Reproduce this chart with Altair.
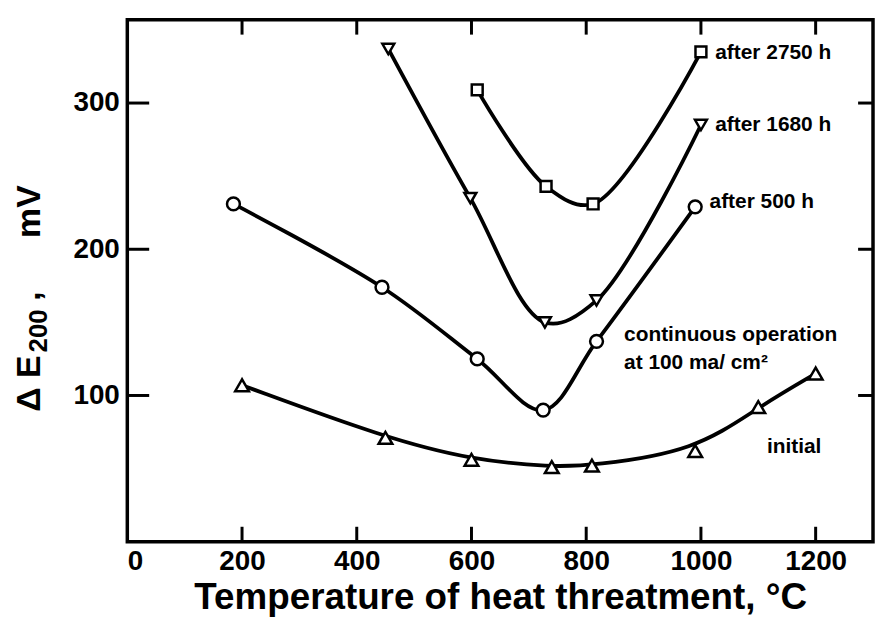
import altair as alt
import pandas as pd

# ---- data ----
initial_x = [200, 450, 600, 740, 810, 990, 1100, 1200]
initial_y = [107, 71, 56, 51, 52, 62, 92, 115]
h500_x = [185, 444, 610, 725, 818, 990]
h500_y = [231, 174, 125, 90, 137, 229]
h1680_x = [455, 598, 728, 818, 1000]
h1680_y = [337, 235, 150, 165, 285]
h2750_x = [610, 730, 812, 1000]
h2750_y = [309, 243, 231, 335]

series_names = ["initial", "after 500 h", "after 1680 h", "after 2750 h"]
series_shapes = ["triangle-up", "circle", "triangle-down", "square"]
series_sizes = [190, 120, 190, 160]

label_text = ["after 2750 h", "after 1680 h", "after 500 h",
              "continuous operation", "at 100 ma/ cm²", "initial"]
label_x = [1025, 1025, 1015, 866, 866, 1115]
label_y = [334, 285, 232, 141, 122, 65]

x_label_values = [0, 200, 400, 600, 800, 1000, 1200]
x_tick_values = [200, 400, 600, 800, 1000, 1200]
y_tick_values = [100, 200, 300]

FONT = "Liberation Sans"
W, H = 750, 525

rows = []
for name, xs, ys in zip(series_names,
                        [initial_x, h500_x, h1680_x, h2750_x],
                        [initial_y, h500_y, h1680_y, h2750_y]):
    for xv, yv in zip(xs, ys):
        rows.append({"series": name, "x": xv, "y": yv})
df = pd.DataFrame(rows)
labels_df = pd.DataFrame({"text": label_text, "x": label_x, "y": label_y})
xt_df = pd.DataFrame({"x": x_tick_values})
yt_df = pd.DataFrame({"y": y_tick_values})

x_scale = alt.Scale(domain=[0, 1300], nice=False, zero=False)
y_scale = alt.Scale(domain=[0, 357], nice=False, zero=False)

x_axis = alt.Axis(values=x_label_values, format="d", ticks=False, domain=False, grid=False,
                  labelFont=FONT, labelFontSize=28, labelFontWeight="bold",
                  labelColor="black", labelPadding=6,
                  title="Temperature of heat threatment, °C",
                  titleFont=FONT, titleFontSize=37, titleFontWeight="bold",
                  titleColor="black", titlePadding=4)
y_axis = alt.Axis(values=y_tick_values, format="d", ticks=False, domain=False, grid=False,
                  labelFont=FONT, labelFontSize=28, labelFontWeight="bold",
                  labelColor="black", labelPadding=8, title=None)

line_style = dict(color="black", strokeWidth=3.8)
enc_x = alt.X("x:Q", scale=x_scale, axis=x_axis)
enc_y = alt.Y("y:Q", scale=y_scale, axis=y_axis)

line_initial = alt.Chart(df).transform_filter(
    alt.datum.series == "initial").mark_line(interpolate="basis", **line_style).encode(
    x=enc_x, y=enc_y)
line_others = alt.Chart(df).transform_filter(
    alt.datum.series != "initial").mark_line(interpolate="catmull-rom", **line_style).encode(
    x=alt.X("x:Q", scale=x_scale), y=alt.Y("y:Q", scale=y_scale), detail="series:N")

points = alt.Chart(df).mark_point(filled=True, fill="white", stroke="black",
                                  strokeWidth=2.5, opacity=1).encode(
    x=alt.X("x:Q", scale=x_scale),
    y=alt.Y("y:Q", scale=y_scale),
    shape=alt.Shape("series:N", scale=alt.Scale(domain=series_names, range=series_shapes), legend=None),
    size=alt.Size("series:N", scale=alt.Scale(domain=series_names, range=series_sizes), legend=None),
)

labels = alt.Chart(labels_df).mark_text(align="left", baseline="middle", font=FONT,
                                        fontSize=21, fontWeight="bold", color="black").encode(
    x=alt.X("x:Q", scale=x_scale),
    y=alt.Y("y:Q", scale=y_scale),
    text="text:N",
)

tick_style = dict(color="black", strokeWidth=3)
bottom_ticks = alt.Chart(xt_df).mark_rule(**tick_style).encode(
    x=alt.X("x:Q", scale=x_scale), y=alt.value(H), y2=alt.value(H - 15))
top_ticks = alt.Chart(xt_df).mark_rule(**tick_style).encode(
    x=alt.X("x:Q", scale=x_scale), y=alt.value(0), y2=alt.value(15))
left_ticks = alt.Chart(yt_df).mark_rule(**tick_style).encode(
    y=alt.Y("y:Q", scale=y_scale), x=alt.value(0), x2=alt.value(22))
right_ticks = alt.Chart(yt_df).mark_rule(**tick_style).encode(
    y=alt.Y("y:Q", scale=y_scale), x=alt.value(W), x2=alt.value(W - 15))

def ytitle(txt, x, y, size):
    return alt.Chart(pd.DataFrame({"t": [txt]})).mark_text(
        text=txt, angle=270, align="center", baseline="alphabetic",
        font=FONT, fontSize=size, fontWeight="bold", color="black").encode(
        x=alt.value(x), y=alt.value(y))

yt1 = ytitle("Δ E", -88, 366, 34)
yt2 = ytitle("200", -81, 313, 26)
yt3 = ytitle(",", -88, 278, 34)
yt4 = ytitle("mV", -88, 193, 34)

chart = alt.layer(
    line_initial, line_others, points, labels,
    bottom_ticks, top_ticks, left_ticks, right_ticks,
    yt1, yt2, yt3, yt4,
).properties(
    width=W, height=H,
    padding={"left": 120, "top": 10, "right": 2, "bottom": 78},
    autosize=alt.AutoSizeParams(type="none"),
    background="white",
).configure_view(stroke="black", strokeWidth=3.5)

chart.save("out.html", embed_options={"renderer": "svg", "actions": False})
